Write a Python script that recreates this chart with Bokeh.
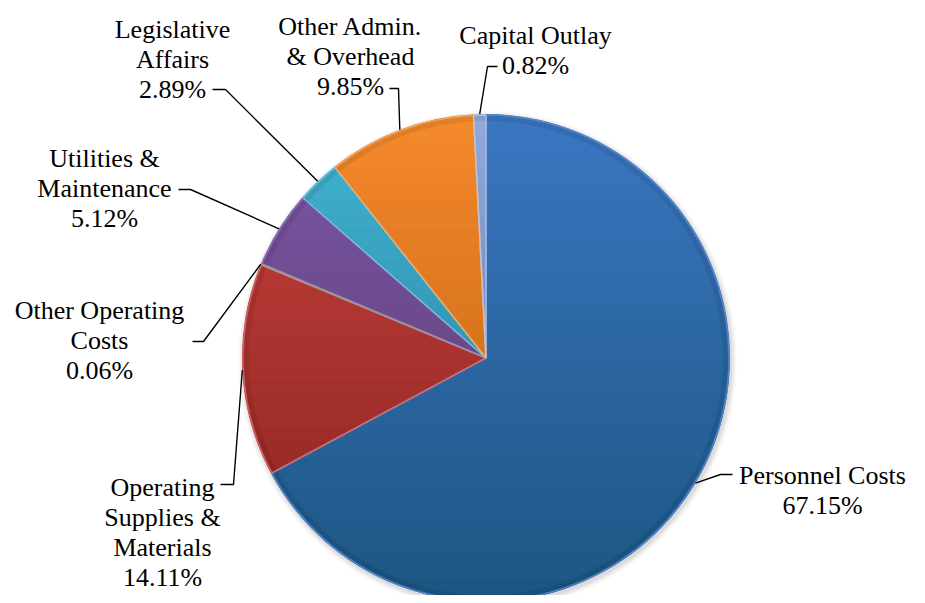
import numpy as np
from bokeh.plotting import figure
from bokeh.models import Range1d, ColumnDataSource
from bokeh.core.properties import value
from bokeh.embed import file_html
from bokeh.resources import INLINE

# ---------------- data ----------------
categories = ["Personnel Costs", "Operating Supplies & Materials", "Other Operating Costs",
              "Utilities & Maintenance", "Legislative Affairs", "Other Admin. & Overhead",
              "Capital Outlay"]
shares = [67.15, 14.11, 0.06, 5.12, 2.89, 9.85, 0.82]
label_lines = [["Personnel Costs"],
               ["Operating", "Supplies &", "Materials"],
               ["Other Operating", "Costs"],
               ["Utilities &", "Maintenance"],
               ["Legislative", "Affairs"],
               ["Other Admin.", "& Overhead"],
               ["Capital Outlay"]]
colors = ["#3B76C2", "#C8423E", "#93B450", "#7A58A8", "#42B5D3", "#F68B2C", "#93ABDB"]
rim_colors = ["#5B8FD6", "#E06A66", "#AFCB75", "#9579C0", "#6FCBE4", "#FBAA60", "#B5C8EA"]

# ---------------- layout (screen pixel coords) ----------------
W, H = 917, 595
CX, CY, R = 485.5, 357.5, 244.0
LINE_H = 30
FONT = "Liberation Serif"
FONT_SIZE = "26px"
label_anchor = [(822, 475), (162, 487), (99, 310), (104, 158), (172, 29), (350, 26), (535, 35)]
leader_elbow = [(720, 474), (233, 484), (203, 341), (190, 189), (225, 89), (398, 88), (487, 66)]
leader_end = [(732, 474), (220, 484), (192, 341), (178, 189), (212, 89), (389, 88), (497, 66)]


def D(x, y):
    """screen coords -> data coords (y up)"""
    return x, -y


p = figure(width=W, height=H, x_range=Range1d(0, W), y_range=Range1d(-H, 0),
           x_axis_type=None, y_axis_type=None, toolbar_location=None,
           output_backend="svg", min_border=0, outline_line_color=None,
           background_fill_color="white", border_fill_color="white")
p.grid.visible = False

cx, cy = D(CX, CY)

# soft drop shadow
for k, a in enumerate([0.05, 0.04, 0.03, 0.02]):
    p.circle(x=[cx + 1.5], y=[cy - 2.5], radius=R + 1 + k * 1.5,
             fill_color="#000000", fill_alpha=a, line_color=None)

# wedges
total = sum(shares)
cum = np.concatenate([[0], np.cumsum(shares)]) / total * 360.0
starts = [90 - cum[i] for i in range(len(shares))]
ends = [90 - cum[i + 1] for i in range(len(shares))]
src = ColumnDataSource(dict(start=starts, end=ends, color=colors, rim=rim_colors))
p.wedge(x=cx, y=cy, radius=R, start_angle="start", end_angle="end",
        start_angle_units="deg", end_angle_units="deg", direction="clock",
        fill_color="color", line_color=None, source=src)

# vertical lighting gradient: stacked circle segments from each level down to bottom
N = 32
tt = np.linspace(0, 1, 60)
for i in range(N):
    ytop = CY - R + (2 * R) * (i + 0.5) / N
    dy0 = ytop - CY
    a0 = np.arcsin(np.clip(dy0 / R, -1, 1))
    ang = a0 + (np.pi - 2 * a0) * tt
    xs = CX + R * np.cos(ang)
    ys = CY + R * np.sin(ang)
    p.patch(x=list(xs), y=list(-ys), fill_color="#000000", fill_alpha=0.0075,
            line_color=None)

# bevel: darker inner rim ring, light highlight on slice edges
p.annular_wedge(x=cx, y=cy, inner_radius=R - 7, outer_radius=R, start_angle="start",
                end_angle="end", start_angle_units="deg", end_angle_units="deg",
                direction="clock", fill_color="#000000", fill_alpha=0.08, line_color=None,
                source=src)
p.wedge(x=cx, y=cy, radius=R - 1, start_angle="start", end_angle="end",
        start_angle_units="deg", end_angle_units="deg", direction="clock",
        fill_color=None, line_color="rim", line_width=1.6, line_alpha=0.8, source=src)

# leader lines
lx, ly = [], []
for i in range(len(shares)):
    mid = np.deg2rad((cum[i] + cum[i + 1]) / 2)
    sx, sy = CX + R * np.sin(mid), CY - R * np.cos(mid)
    ex, ey = leader_elbow[i]
    fx, fy = leader_end[i]
    lx.append([sx, ex, fx])
    ly.append([-sy, -ey, -fy])
p.multi_line(xs=lx, ys=ly, line_color="black", line_width=1.4)

# labels
tx, ty, tt_ = [], [], []
for i, lines in enumerate(label_lines):
    ax, ay = label_anchor[i]
    allines = lines + [f"{shares[i]:.2f}%"]
    for j, t in enumerate(allines):
        tx.append(ax)
        ty.append(-(ay + j * LINE_H))
        tt_.append(t)
p.text(x=tx, y=ty, text=tt_, text_align="center", text_baseline="alphabetic",
       text_font=value(FONT), text_font_size=FONT_SIZE, text_color="black")

open("out.html", "w").write(file_html(p, INLINE))
